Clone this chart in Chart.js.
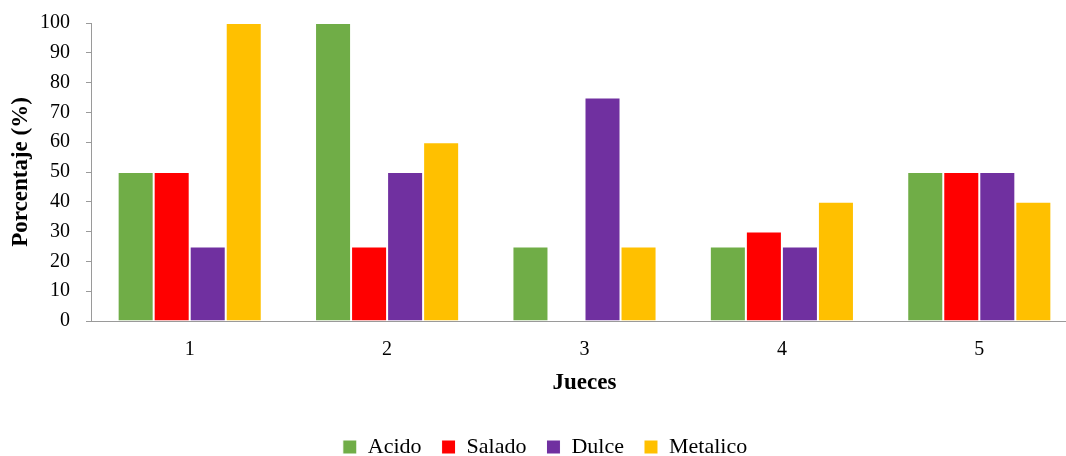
<!DOCTYPE html>
<html>
<head>
<meta charset="utf-8">
<script src="https://cdn.jsdelivr.net/npm/chart.js@4"></script>
<style>
  html, body { margin: 0; padding: 0; background: #fff; overflow: hidden; }
  #wrap { width: 1066px; height: 456px; overflow: hidden; position: relative; }
  #c { position: absolute; left: 0; top: 0; }
</style>
</head>
<body>
<div id="wrap"><canvas id="c" width="1078" height="468"></canvas></div>
<script>
// Porcentaje por juez y atributo de sabor
const jueces   = ['1', '2', '3', '4', '5'];
const acido    = [50, 100, 25, 25, 50];
const salado   = [50, 25, 0, 30, 50];
const dulce    = [25, 50, 75, 25, 50];
const metalico = [100, 60, 25, 40, 40];

const serif = 'Liberation Serif';
const axisGrey = '#9a9a9a';

function serie(label, data, color) {
  return {
    label: label,
    data: data,
    backgroundColor: color,
    borderColor: '#ffffff',
    borderWidth: 1,
    borderSkipped: 'start',
    categoryPercentage: 0.73,
    barPercentage: 1.0
  };
}

new Chart(document.getElementById('c'), {
  type: 'bar',
  data: {
    labels: jueces,
    datasets: [
      serie('Acido', acido, '#70AD47'),
      serie('Salado', salado, '#FF0000'),
      serie('Dulce', dulce, '#7030A0'),
      serie('Metalico', metalico, '#FFC000')
    ]
  },
  options: {
    responsive: false,
    animation: false,
    layout: { padding: { left: 12, top: 23, right: 0, bottom: 0 } },
    plugins: {
      tooltip: { enabled: false },
      legend: {
        position: 'bottom',
        labels: {
          boxWidth: 14,
          boxHeight: 14,
          padding: 20,
          color: '#000',
          font: { family: serif, size: 22 }
        }
      }
    },
    scales: {
      x: {
        z: 1,
        grid: { display: false, drawTicks: false, tickLength: 0 },
        border: { display: true, color: axisGrey, width: 1 },
        ticks: {
          color: '#000',
          padding: 17,
          font: { family: serif, size: 20 }
        },
        title: {
          display: true,
          text: 'Jueces',
          color: '#000',
          padding: { top: 0, bottom: 19 },
          font: { family: serif, size: 23, weight: 'bold' }
        },
        afterFit: function (scale) { scale.height = 95; }
      },
      y: {
        min: 0,
        max: 100,
        ticks: {
          stepSize: 10,
          color: '#000',
          padding: 16,
          font: { family: serif, size: 20 }
        },
        grid: {
          display: true,
          drawOnChartArea: false,
          drawTicks: true,
          tickLength: 5,
          color: axisGrey
        },
        border: { display: true, color: axisGrey, width: 1 },
        title: {
          display: true,
          text: 'Porcentaje (%)',
          color: '#000',
          padding: { top: -5, bottom: 0 },
          font: { family: serif, size: 23, weight: 'bold' }
        },
        afterFit: function (scale) {
          scale.width = 79;
          scale.paddingTop = 0;
          scale.paddingBottom = 0;
        }
      }
    }
  }
});
</script>
</body>
</html>
